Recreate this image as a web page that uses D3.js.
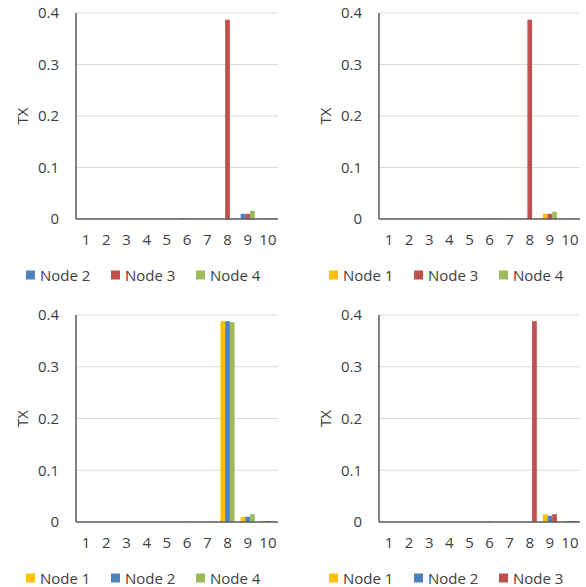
<!DOCTYPE html>
<html>
<head>
<meta charset="utf-8">
<script src="https://cdn.jsdelivr.net/npm/d3@7"></script>
<style>
    body { margin: 0; background: #fff; }
    text { font-family: "Open Sans", "Noto Sans", sans-serif; fill: #404040; }
</style>
</head>
<body>
<div id="chart"></div>
<script>
// categories and ticks
const categories = ["1", "2", "3", "4", "5", "6", "7", "8", "9", "10"];
const yTicks = [0, 0.1, 0.2, 0.3, 0.4];

// top left panel
const topLeftNode2 = [0, 0, 0, 0, 0, 0.001, 0, 0, 0.010, 0.0005];
const topLeftNode3 = [0, 0, 0, 0, 0, 0, 0, 0.387, 0.010, 0.0005];
const topLeftNode4 = [0, 0, 0, 0, 0, 0, 0, 0, 0.016, 0.0015];

// top right panel
const topRightNode1 = [0, 0, 0, 0, 0, 0.0008, 0, 0, 0.010, 0];
const topRightNode3 = [0, 0, 0, 0, 0, 0.0008, 0, 0.387, 0.010, 0];
const topRightNode4 = [0, 0, 0, 0, 0, 0.0008, 0, 0, 0.014, 0.0012];

// bottom left panel
const bottomLeftNode1 = [0, 0, 0, 0, 0, 0, 0, 0.388, 0.010, 0.002];
const bottomLeftNode2 = [0, 0, 0, 0, 0, 0.001, 0, 0.388, 0.010, 0.002];
const bottomLeftNode4 = [0, 0, 0, 0, 0, 0, 0, 0.386, 0.015, 0.002];

// bottom right panel
const bottomRightNode1 = [0, 0, 0, 0, 0, 0, 0, 0, 0.015, 0.002];
const bottomRightNode2 = [0, 0, 0, 0, 0, 0.001, 0, 0, 0.012, 0.002];
const bottomRightNode3 = [0, 0, 0, 0, 0, 0, 0, 0.388, 0.015, 0.002];

const nodeColors = {
    "Node 1": "#FFC000",
    "Node 2": "#4F81BD",
    "Node 3": "#C0504D",
    "Node 4": "#9BBB59"
};

const panels = [
    { left: 76, right: 278, top: 13, bottom: 219, titleX: 22, legendX: 26, legendY: 275,
      series: [["Node 2", topLeftNode2], ["Node 3", topLeftNode3], ["Node 4", topLeftNode4]] },
    { left: 379, right: 580, top: 13, bottom: 219, titleX: 325, legendX: 329, legendY: 275,
      series: [["Node 1", topRightNode1], ["Node 3", topRightNode3], ["Node 4", topRightNode4]] },
    { left: 76, right: 278, top: 315, bottom: 522, titleX: 22, legendX: 26, legendY: 578,
      series: [["Node 1", bottomLeftNode1], ["Node 2", bottomLeftNode2], ["Node 4", bottomLeftNode4]] },
    { left: 379, right: 580, top: 315, bottom: 522, titleX: 325, legendX: 329, legendY: 578,
      series: [["Node 1", bottomRightNode1], ["Node 2", bottomRightNode2], ["Node 3", bottomRightNode3]] }
];

const svg = d3.select("#chart")
    .append("svg")
    .attr("width", 586)
    .attr("height", 587);

panels.forEach(p => drawPanel(p));

function drawPanel(p) {
    const g = svg.append("g");
    const names = p.series.map(s => s[0]);

    const x = d3.scaleBand().domain(categories).range([p.left, p.right]).paddingInner(0.3).paddingOuter(0.15);
    const xInner = d3.scaleBand().domain(names).range([0, x.bandwidth()]);
    const y = d3.scaleLinear().domain([0, 0.4]).range([p.bottom, p.top]);

    // gridlines
    g.selectAll("line.grid")
        .data(yTicks.slice(1))
        .enter().append("line")
        .attr("x1", p.left)
        .attr("x2", p.right)
        .attr("y1", d => y(d))
        .attr("y2", d => y(d))
        .attr("stroke", "#d9d9d9")
        .attr("stroke-width", 1);

    // bars
    p.series.forEach(([name, values]) => {
        g.selectAll(null)
            .data(values)
            .enter().append("rect")
            .attr("x", (d, i) => x(categories[i]) + xInner(name))
            .attr("width", xInner.bandwidth())
            .attr("y", d => y(d))
            .attr("height", d => y(0) - y(d))
            .attr("fill", nodeColors[name]);
    });

    // y axis labels
    const yAxis = g.append("g")
        .attr("transform", `translate(${p.left},0)`)
        .call(d3.axisLeft(y).tickValues(yTicks).tickSize(0).tickPadding(17).tickFormat(d => d === 0 ? "0" : d3.format(".1f")(d)));
    yAxis.select(".domain").remove();
    yAxis.selectAll("text").style("font-size", "15px").attr("fill", "#404040");

    // x axis labels
    const xAxis = g.append("g")
        .attr("transform", `translate(0,${p.bottom})`)
        .call(d3.axisBottom(x).tickSize(0).tickPadding(15));
    xAxis.select(".domain").remove();
    xAxis.selectAll("text").style("font-size", "15px").attr("fill", "#404040");

    // axis lines
    g.append("line")
        .attr("x1", p.left).attr("x2", p.left)
        .attr("y1", p.top).attr("y2", p.bottom)
        .attr("stroke", "#595959").attr("stroke-width", 1.5);
    g.append("line")
        .attr("x1", p.left).attr("x2", p.right)
        .attr("y1", p.bottom).attr("y2", p.bottom)
        .attr("stroke", "#595959").attr("stroke-width", 1.5);

    // axis title
    g.append("text")
        .attr("transform", `translate(${p.titleX},${(p.top + p.bottom) / 2}) rotate(-90)`)
        .attr("text-anchor", "middle")
        .attr("dominant-baseline", "central")
        .style("font-size", "15px")
        .text("TX");

    // legend
    const legend = g.selectAll("g.legend")
        .data(names)
        .enter().append("g")
        .attr("transform", (d, i) => `translate(${p.legendX + i * 85},${p.legendY})`);
    legend.append("rect")
        .attr("x", 0).attr("y", -4.5)
        .attr("width", 9).attr("height", 9)
        .attr("fill", d => nodeColors[d]);
    legend.append("text")
        .attr("x", 14)
        .attr("dominant-baseline", "central")
        .style("font-size", "15px")
        .text(d => d);
}
</script>
</body>
</html>
